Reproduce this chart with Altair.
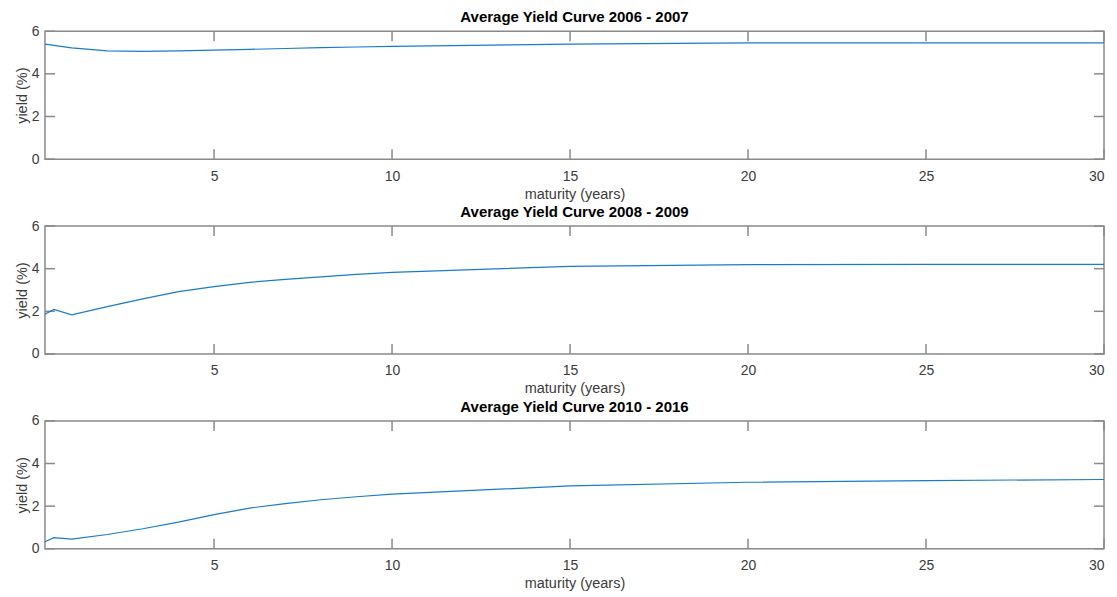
import altair as alt
import pandas as pd

maturity = [0.25, 0.5, 1, 2, 3, 4, 5, 6, 7, 8, 9, 10, 15, 20, 25, 30]
yield_2006_2007 = [5.40, 5.34, 5.22, 5.08, 5.06, 5.08, 5.11, 5.15, 5.19, 5.23, 5.26, 5.29, 5.40, 5.45, 5.45, 5.45]
yield_2008_2009 = [1.86, 2.09, 1.83, 2.22, 2.58, 2.92, 3.16, 3.36, 3.50, 3.62, 3.73, 3.83, 4.11, 4.19, 4.20, 4.20]
yield_2010_2016 = [0.33, 0.52, 0.45, 0.67, 0.94, 1.25, 1.60, 1.91, 2.12, 2.30, 2.44, 2.56, 2.95, 3.12, 3.20, 3.25]
titles = ["Average Yield Curve 2006 - 2007", "Average Yield Curve 2008 - 2009", "Average Yield Curve 2010 - 2016"]
x_ticks = [5, 10, 15, 20, 25, 30]
y_ticks = [0, 2, 4, 6]

W, H = 1060, 128
GRAY = "#8a8a8a"
FONT = "Liberation Sans"

xscale = alt.Scale(domain=[0.25, 30], nice=False, zero=False)
yscale = alt.Scale(domain=[0, 6], nice=False)
xaxis = alt.Axis(values=x_ticks, title="maturity (years)", ticks=False, domain=False, grid=False,
                 labelPadding=10, titlePadding=4, labelFontSize=14, titleFontSize=14.5,
                 labelColor="#3c3c3c", titleColor="#3c3c3c", labelFont=FONT, titleFont=FONT,
                 titleFontWeight="normal")
yaxis = alt.Axis(values=y_ticks, title="yield (%)", ticks=False, domain=False, grid=False,
                 labelPadding=6, titlePadding=2, labelFontSize=14, titleFontSize=14.5,
                 labelColor="#3c3c3c", titleColor="#3c3c3c", labelFont=FONT, titleFont=FONT,
                 titleFontWeight="normal")

xt = pd.DataFrame({"t": x_ticks})
yt = pd.DataFrame({"t": y_ticks})


def panel(values, title):
    df = pd.DataFrame({"maturity": maturity, "yield": values})
    line = alt.Chart(df).mark_line(color="#1a7cc6", strokeWidth=1.2, clip=True).encode(
        x=alt.X("maturity:Q", scale=xscale, axis=xaxis),
        y=alt.Y("yield:Q", scale=yscale, axis=yaxis),
    )
    xb = alt.Chart(xt).mark_rule(color=GRAY, strokeWidth=1.5).encode(
        x=alt.X("t:Q", scale=xscale, axis=xaxis), y=alt.value(H), y2=alt.value(H - 10))
    xtop = alt.Chart(xt).mark_rule(color=GRAY, strokeWidth=1.5).encode(
        x=alt.X("t:Q", scale=xscale, axis=xaxis), y=alt.value(0), y2=alt.value(10))
    yl = alt.Chart(yt).mark_rule(color=GRAY, strokeWidth=1.5).encode(
        y=alt.Y("t:Q", scale=yscale, axis=yaxis), x=alt.value(0), x2=alt.value(10))
    yr = alt.Chart(yt).mark_rule(color=GRAY, strokeWidth=1.5).encode(
        y=alt.Y("t:Q", scale=yscale, axis=yaxis), x=alt.value(W), x2=alt.value(W - 10))
    return alt.layer(xb, xtop, yl, yr, line).properties(
        width=W, height=H,
        title=alt.TitleParams(title, fontSize=15, fontWeight="bold", font=FONT, color="#000000", offset=-1),
    )


chart = alt.vconcat(
    panel(yield_2006_2007, titles[0]),
    panel(yield_2008_2009, titles[1]),
    panel(yield_2010_2016, titles[2]),
    spacing=2,
).configure_view(stroke=GRAY, strokeWidth=1.5).properties(padding={"left": 5, "top": 1, "right": 3, "bottom": 0})

chart.save("out.html", embed_options={"renderer": "svg", "actions": False})
